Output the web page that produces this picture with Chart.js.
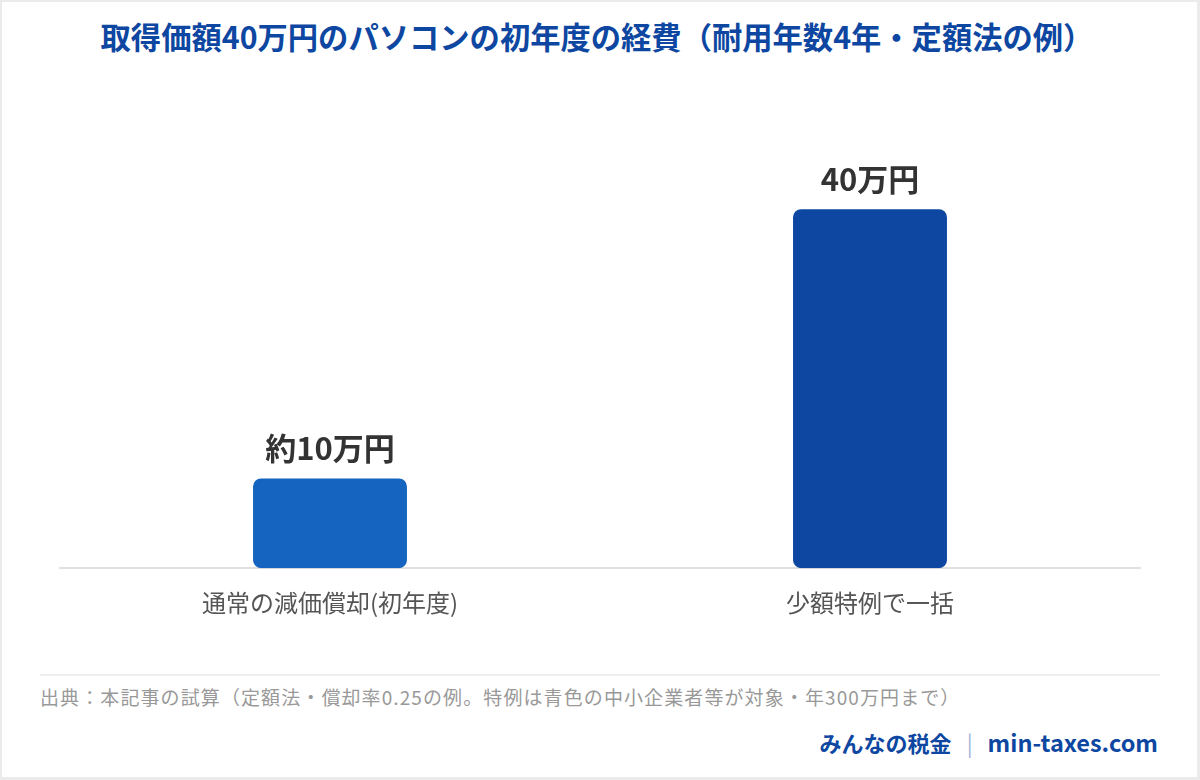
<!DOCTYPE html>
<html>
<head>
<meta charset="utf-8">
<script src="https://cdn.jsdelivr.net/npm/chart.js@4.4.1/dist/chart.umd.min.js"></script>
<style>
  html, body { margin: 0; padding: 0; }
  body { width: 1200px; height: 780px; background: #ebebeb; position: relative; overflow: hidden;
         font-family: "Noto Sans CJK JP", "Noto Sans", sans-serif; }
  #card { position: absolute; left: 2px; top: 2px; width: 1195px; height: 775px; background: #fff; }
  #title { position: absolute; left: 0; top: 15px; width: 1194px; text-align: center;
           font-size: 30.3px; font-weight: 700; color: #0d47a1; line-height: 42px; }
  #wrap { position: absolute; left: 0; top: 0; width: 1200px; height: 650px; }
  #sep { position: absolute; left: 40px; top: 674px; width: 1120px; height: 2px; background: #eeeeee; }
  #source { position: absolute; left: 40px; top: 684px; font-size: 19px; color: #999; line-height: 26px;
            letter-spacing: 1.1px; white-space: nowrap; }
  #brand { position: absolute; right: 42px; top: 727px; font-size: 22px; font-weight: 700; color: #0d47a1;
           line-height: 30px; white-space: nowrap; }
  #brand .bar { color: #9fb4dc; font-weight: 400; margin: 0 15px; }
  #brand .url { font-size: 23.5px; }
</style>
</head>
<body>
<div id="card"></div>
<div id="title">取得価額40万円のパソコンの初年度の経費（耐用年数4年・定額法の例）</div>
<div id="wrap"><canvas id="c" width="1200" height="650"></canvas></div>
<div id="sep"></div>
<div id="source">出典：本記事の試算（定額法・償却率0.25の例。特例は青色の中小企業者等が対象・年300万円まで）</div>
<div id="brand">みんなの税金<span class="bar">|</span><span class="url">min-taxes.com</span></div>
<script>
const categories = ["通常の減価償却(初年度)", "少額特例で一括"];
const expenseValues = [10, 40];           // 万円
const valueLabels = ["約10万円", "40万円"];
const barColors = ["#1565c0", "#0d47a1"];

const valueLabelPlugin = {
  id: "valueLabels",
  afterDatasetsDraw(chart) {
    const ctx = chart.ctx;
    const meta = chart.getDatasetMeta(0);
    ctx.save();
    ctx.font = '700 31px "Noto Sans CJK JP", sans-serif';
    ctx.fillStyle = "#333333";
    ctx.textAlign = "center";
    ctx.textBaseline = "middle";
    meta.data.forEach((el, i) => {
      ctx.fillText(valueLabels[i], el.x, el.y - 30);
    });
    ctx.restore();
  }
};

new Chart(document.getElementById("c"), {
  type: "bar",
  data: {
    labels: categories,
    datasets: [{
      data: expenseValues,
      backgroundColor: barColors,
      borderRadius: 8,
      borderSkipped: false,
      barPercentage: 0.285,
      categoryPercentage: 1.0
    }]
  },
  options: {
    responsive: false,
    animation: false,
    devicePixelRatio: 1,
    layout: { padding: { left: 60, right: 60, top: 119.5, bottom: 13 } },
    plugins: { legend: { display: false }, tooltip: { enabled: false }, title: { display: false } },
    scales: {
      x: {
        grid: { display: false, drawTicks: false },
        border: { display: true, color: "#e0e0e0", width: 2 },
        ticks: { color: "#555555", padding: 20,
                 font: { family: '"Noto Sans CJK JP", sans-serif', size: 24 } }
      },
      y: {
        display: false,
        min: 0,
        max: 50
      }
    }
  },
  plugins: [valueLabelPlugin]
});
</script>
</body>
</html>
